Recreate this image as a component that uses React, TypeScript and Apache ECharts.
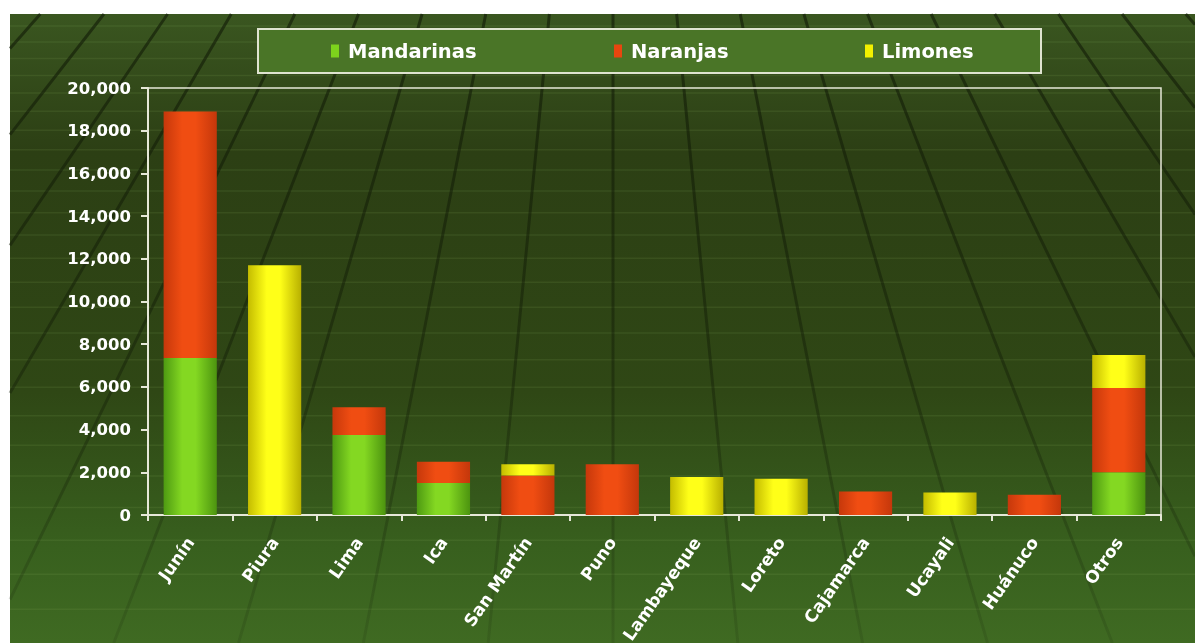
import React, { useEffect, useRef } from "react";
import * as echarts from "echarts";

const categories = ["Junín", "Piura", "Lima", "Ica", "San Martín", "Puno", "Lambayeque", "Loreto", "Cajamarca", "Ucayali", "Huánuco", "Otros"];
const mandarinas = [7350, 0, 3750, 1500, 0, 0, 0, 0, 0, 0, 0, 2000];
const naranjas = [11550, 0, 1300, 1000, 1850, 2380, 0, 0, 1100, 0, 950, 3950];
const limones = [0, 11700, 0, 0, 530, 0, 1780, 1700, 0, 1050, 0, 1550];
const seriesNames = ["Mandarinas", "Naranjas", "Limones"];
const yMin = 0;
const yMax = 20000;
const yInterval = 2000;

const FONT = "DejaVu Sans";

function cyl(edge: string, center: string, edge2: string) {
  return new echarts.graphic.LinearGradient(0, 0, 1, 0, [
    { offset: 0, color: edge },
    { offset: 0.35, color: center },
    { offset: 0.6, color: center },
    { offset: 1, color: edge2 },
  ]);
}

function buildBackground() {
  const els: any[] = [];
  const X0 = 10, Y0 = 14, X1 = 1195, Y1 = 643;
  els.push({
    type: "rect",
    z: -30,
    silent: true,
    shape: { x: X0, y: Y0, width: X1 - X0, height: Y1 - Y0 },
    style: {
      fill: new echarts.graphic.LinearGradient(0, 0, 0, 1, [
        { offset: 0, color: "#3a5620" },
        { offset: 0.22, color: "#2c3f14" },
        { offset: 0.6, color: "#2f4715" },
        { offset: 0.85, color: "#38601e" },
        { offset: 1, color: "#3f6a22" },
      ]),
    },
  });
  let y = Y0 + 12;
  while (y < Y1) {
    els.push({
      type: "line",
      z: -25,
      silent: true,
      shape: { x1: X0, y1: y, x2: X1, y2: y },
      style: { stroke: "rgba(140,180,90,0.13)", lineWidth: 1.5 },
    });
    y += 15 + 0.035 * y;
  }
  const vx = 613, vy = -640;
  const fade = new echarts.graphic.LinearGradient(0, Y0, 0, Y1, [
    { offset: 0, color: "rgba(15,24,5,0.6)" },
    { offset: 0.55, color: "rgba(15,24,5,0.4)" },
    { offset: 1, color: "rgba(15,24,5,0.12)" },
  ], true);
  for (let k = -14; k <= 14; k++) {
    const px = vx + 72 * k;
    const py = 100;
    const xAt = (yy: number) => vx + (px - vx) * (yy - vy) / (py - vy);
    let xa = xAt(Y0), ya = Y0;
    let xb = xAt(Y1), yb = Y1;
    if (xb < X0) {
      if (xa < X0) continue;
      yb = vy + (X0 - vx) * (py - vy) / (px - vx);
      xb = X0;
    }
    if (xb > X1) {
      if (xa > X1) continue;
      yb = vy + (X1 - vx) * (py - vy) / (px - vx);
      xb = X1;
    }
    els.push({
      type: "line",
      z: -20,
      silent: true,
      shape: { x1: xa, y1: ya, x2: xb, y2: yb },
      style: { stroke: fade, lineWidth: 3 },
    });
  }
  els.push({
    type: "rect",
    z: -5,
    silent: true,
    shape: { x: 258, y: 29, width: 783, height: 44 },
    style: { fill: "#4a7527", stroke: "#dfe3d0", lineWidth: 2 },
  });
  return els;
}

export default function App() {
  const ref = useRef<HTMLDivElement>(null);
  useEffect(() => {
    if (!ref.current) return;
    const chart = echarts.init(ref.current, undefined, { renderer: "svg" });
    const legendText = { color: "#ffffff", fontFamily: FONT, fontWeight: "bold" as const, fontSize: 19.5, padding: [0, 0, 0, 4] };
    const legendPos = [331, 614, 865];
    const colors = [
      cyl("#4e9a12", "#84d822", "#4c940f"),
      cyl("#c6380b", "#f04d12", "#c4370b"),
      cyl("#c4bc00", "#ffff18", "#b8b000"),
    ];
    const legendColors = ["#7dd31c", "#e8460f", "#f2f000"];
    const values = [mandarinas, naranjas, limones];
    chart.setOption({
      animation: false,
      backgroundColor: "transparent",
      graphic: buildBackground(),
      legend: seriesNames.map((n, i) => ({
        data: [{ name: n, itemStyle: { color: legendColors[i] } }],
        left: legendPos[i],
        top: 41,
        padding: 0,
        icon: "rect",
        itemWidth: 8,
        itemHeight: 13,
        textStyle: legendText,
        selectedMode: false,
      })),
      grid: {
        left: 148, top: 88, width: 1013, height: 427,
        outerBoundsMode: "none",
        containLabel: false,
        show: true, borderColor: "#e6e8d8", borderWidth: 1.5, backgroundColor: "transparent",
      },
      xAxis: {
        type: "category",
        data: categories,
        axisLine: { lineStyle: { color: "#e6e8d8", width: 2 } },
        axisTick: { show: true, alignWithLabel: false, length: 6, lineStyle: { color: "#e6e8d8", width: 2 } },
        axisLabel: { rotate: 55, margin: 24, color: "#ffffff", fontFamily: FONT, fontWeight: "bold", fontSize: 17, interval: 0 },
        splitLine: { show: false },
      },
      yAxis: {
        type: "value",
        min: yMin,
        max: yMax,
        interval: yInterval,
        axisLine: { show: true, lineStyle: { color: "#e6e8d8", width: 2 } },
        axisTick: { show: true, length: 7, lineStyle: { color: "#e6e8d8", width: 2 } },
        axisLabel: {
          margin: 17,
          color: "#ffffff",
          fontFamily: FONT,
          fontWeight: "bold",
          fontSize: 16.5,
          formatter: (v: number) => v.toLocaleString("en-US"),
        },
        splitLine: { show: false },
      },
      series: seriesNames.map((n, i) => ({
        name: n,
        type: "bar",
        stack: "total",
        barWidth: "63%",
        data: values[i],
        itemStyle: { color: colors[i] },
      })),
    });
    return () => chart.dispose();
  }, []);
  return <div ref={ref} style={{ position: "fixed", left: 0, top: 0, width: 1195, height: 643 }} />;
}
